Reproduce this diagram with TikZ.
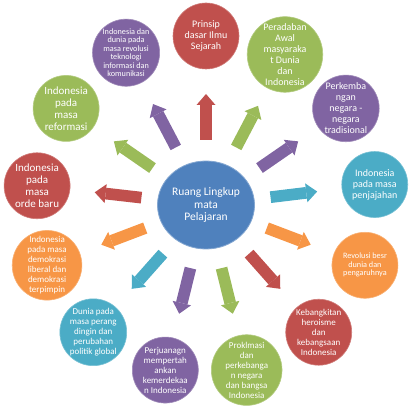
\documentclass[tikz,border=0pt]{standalone}
\usepackage{fontspec}
\setmainfont{Carlito}
\usetikzlibrary{arrows.meta,shapes.geometric,calc}
\definecolor{cred}{HTML}{C0504D}
\definecolor{cgreen}{HTML}{9BBB59}
\definecolor{cpurple}{HTML}{8064A2}
\definecolor{cteal}{HTML}{4BACC6}
\definecolor{corange}{HTML}{F79646}
\definecolor{cblue}{HTML}{4F81BD}
\tikzset{
  circ/.style={circle, minimum size=66pt, inner sep=0pt, text=white, align=center, fill=#1, draw=#1!75!white, line width=0.6pt},
  fA/.style={font=\fontsize{11}{12}\selectfont},
  fB/.style={font=\fontsize{10}{11}\selectfont},
  fC/.style={font=\fontsize{9}{10}\selectfont},
  fD/.style={font=\fontsize{8.2}{8.5}\selectfont},
  blk/.style={draw=#1, line width=11.7pt, -{Triangle[length=11pt,width=19pt,line width=0pt]}, shorten <=65pt, shorten >=58pt}
}
\begin{document}
\begin{tikzpicture}[x=1pt,y=1pt]
\useasboundingbox (0,0) rectangle (412,407);
\node[ellipse, minimum width=97pt, minimum height=88pt, inner sep=0pt, fill=cblue, draw=cblue!70!white, line width=0.8pt, text=white, align=center, font=\fontsize{11.5}{12.5}\selectfont] (ctr) at (206,202) {Ruang Lingkup\\mata\\Pelajaran};
\begin{scope}[shift={(206,202)}]
\node[circ=cred, fB] (c0) at (90:169) {Prinsip\\dasar Ilmu\\Sejarah};
\node[circ=cgreen, fB] (c1) at (62.31:170) {Peradaban\\Awal\\masyaraka\\t Dunia\\dan\\Indonesia};
\node[circ=cpurple, fB] (c2) at (34.62:170) {Perkemba\\ngan\\negara -\\negara\\tradisional};
\node[circ=cteal, fB] (c3) at (6.92:170) {Indonesia\\pada masa\\penjajahan};
\node[circ=corange, fD] (c4) at (-20.77:170) {Revolusi besr\\dunia dan\\pengaruhnya};
\node[circ=cred, fC] (c5) at (-48.46:170) {Kebangkitan\\heroisme\\dan\\kebangsaan\\Indonesia};
\node[circ=cgreen, fC] (c6) at (-76.15:170) {Proklmasi\\dan\\perkebanga\\n negara\\dan bangsa\\Indonesia};
\node[circ=cpurple, fC] (c7) at (-103.85:170) {Perjuanagn\\mempertah\\ankan\\kemerdekaa\\n Indonesia};
\node[circ=cteal, fC] (c8) at (-131.54:170) {Dunia pada\\masa perang\\dingin dan\\perubahan\\politik global};
\node[circ=corange, fC] (c9) at (-159.23:170) {Indonesia\\pada masa\\demokrasi\\liberal dan\\demokrasi\\terpimpin};
\node[circ=cred, fA] (c10) at (-186.5:170) {Indonesia\\pada\\masa\\orde baru};
\node[circ=cgreen, fA] (c11) at (-214.62:170) {Indonesia\\pada\\masa\\reformasi};
\node[circ=cpurple, fD] (c12) at (-242.31:172) {Indonesia dan\\dunia pada\\masa revolusi\\teknologi\\informasi dan\\komunikasi};
\end{scope}
\foreach \i/\c in {0/cred,1/cgreen,2/cpurple,3/cteal,4/corange,5/cred,6/cgreen,7/cpurple,8/cteal,9/corange,10/cred,11/cgreen,12/cpurple}
  \draw[blk=\c] (ctr.center) -- (c\i.center);
\end{tikzpicture}
\end{document}
